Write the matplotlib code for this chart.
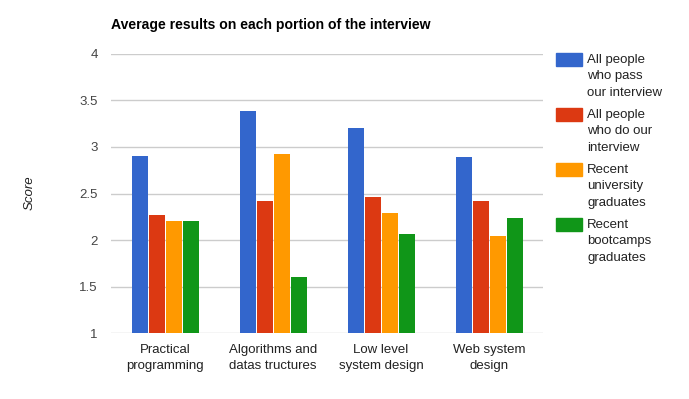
import numpy as np
import matplotlib.pyplot as plt
from matplotlib.patches import Rectangle

plt.rcParams['font.family'] = ['Liberation Sans', 'DejaVu Sans']

# Данные
categories = ['Practical\nprogramming', 'Algorithms and\ndatas tructures',
              'Low level\nsystem design', 'Web system\ndesign']
series_labels = ['All people\nwho pass\nour interview',
                 'All people\nwho do our\ninterview',
                 'Recent\nuniversity\ngraduates',
                 'Recent\nbootcamps\ngraduates']
pass_all = [2.90, 3.39, 3.20, 2.89]
do_all = [2.27, 2.42, 2.46, 2.42]
university = [2.21, 2.92, 2.29, 2.04]
bootcamps = [2.21, 1.60, 2.07, 2.24]
yticks = [1, 1.5, 2, 2.5, 3, 3.5, 4]

colors = ['#3366cc', '#dc3912', '#ff9900', '#109618']
series = [pass_all, do_all, university, bootcamps]

fig = plt.figure(figsize=(6.89, 3.99), dpi=100)
ax = fig.add_axes([111 / 689, 1 - 333.3 / 399, 432 / 689, 279.6 / 399])

x = np.arange(len(categories))
step = 17 / 108
for i, (vals, c) in enumerate(zip(series, colors)):
    ax.bar(x + (i - 1.5) * step, np.array(vals) - 1, bottom=1,
           width=16 / 108, color=c, zorder=3)

ax.set_xlim(-0.5, 3.5)
ax.set_ylim(1, 4)
ax.set_yticks(yticks)
ax.set_yticklabels([f'{v:g}' for v in yticks])
ax.set_xticks(x)
ax.set_xticklabels(categories, linespacing=1.5)
ax.grid(axis='y', color='#cccccc', linewidth=1, zorder=0)
for s in ax.spines.values():
    s.set_visible(False)
ax.tick_params(axis='both', length=0, labelsize=9.5)
ax.tick_params(axis='y', pad=9.5, colors='#444444')
ax.tick_params(axis='x', pad=7.5, colors='#222222')

# подпись оси Y
fig.text(30 / 689, 1 - 193 / 399, 'Score', style='italic', fontsize=9.5,
         color='#222222', rotation=90, ha='center', va='center')

fig.text(111 / 689, 1 - 25 / 399, 'Average results on each portion of the interview',
         fontsize=10.1, fontweight='bold', va='center', ha='left')

# Легенда вручную (квадрат выровнен по первой строке)
for i, (lab, c) in enumerate(zip(series_labels, colors)):
    top = 53.3 + i * 55
    fig.patches.append(Rectangle((556 / 689, 1 - (top + 12.5) / 399), 26 / 689, 12.5 / 399,
                                 transform=fig.transFigure, color=c))
    fig.text(587 / 689, 1 - (top + 0.5) / 399, lab, fontsize=9.5, va='top', ha='left',
             color='#222222', linespacing=1.5)

fig.savefig('out.png', dpi=100)
